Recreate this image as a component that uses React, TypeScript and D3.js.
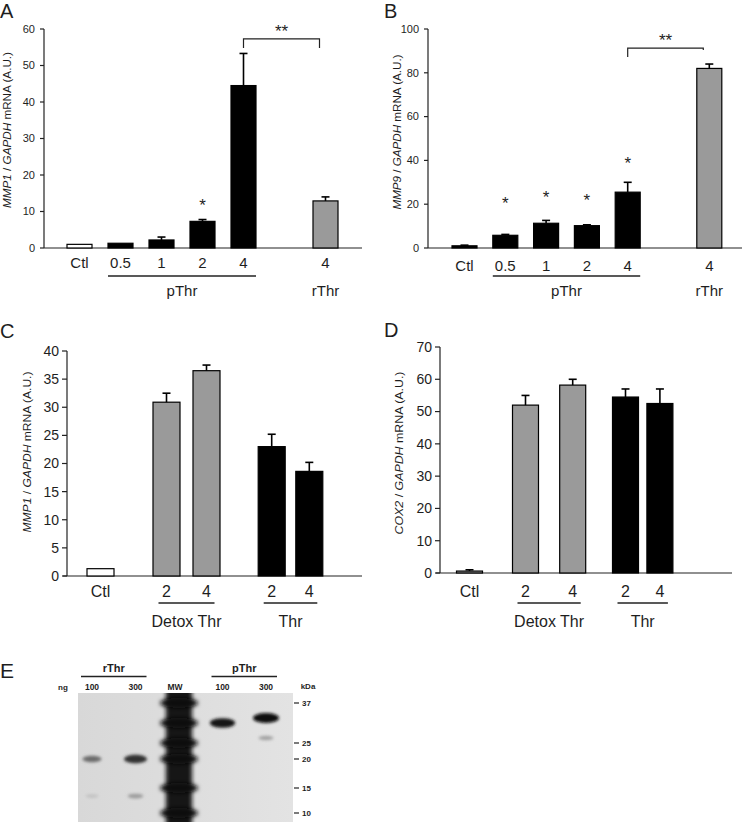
import React from 'react';
import * as d3 from 'd3';

// ---------- DATA ----------
// Panel A: MMP1 / GAPDH
const catsA = ['Ctl', '0.5', '1', '2', '4', '4'];
const valsA = [1.0, 1.3, 2.2, 7.3, 44.5, 12.9];
const errA = [0, 0, 0.8, 0.5, 8.8, 1.1];
const fillA = ['white', 'black', 'black', 'black', 'black', 'gray'];
const starsA = [null, null, null, '*', null, null];
const starValA = [0, 0, 0, 12.6, 0, 0];

// Panel B: MMP9 / GAPDH
const catsB = ['Ctl', '0.5', '1', '2', '4', '4'];
const valsB = [1.0, 5.8, 11.3, 10.2, 25.5, 82.0];
const errB = [0.3, 0.4, 1.3, 0.4, 4.5, 2.0];
const fillB = ['black', 'black', 'black', 'black', 'black', 'gray'];
const starsB = [null, '*', '*', '*', '*', null];
const starValB = [0, 21.9, 24.7, 23.3, 40.2, 0];

// Panel C: MMP1 / GAPDH, detox vs Thr
const catsC = ['Ctl', '2', '4', '2', '4'];
const valsC = [1.3, 30.9, 36.5, 23.0, 18.6];
const errC = [0, 1.6, 1.0, 2.2, 1.6];
const fillC = ['white', 'gray', 'gray', 'black', 'black'];

// Panel D: COX2 / GAPDH
const catsD = ['Ctl', '2', '4', '2', '4'];
const valsD = [0.6, 52.0, 58.2, 54.5, 52.5];
const errD = [0.4, 3.0, 1.8, 2.5, 4.5];
const fillD = ['gray', 'gray', 'gray', 'black', 'black'];

const groupsAB = [{ label: 'pThr', from: 1, to: 4, line: true }, { label: 'rThr', from: 5, to: 5, line: false }];
const groupsCD = [{ label: 'Detox Thr', from: 1, to: 2, line: true }, { label: 'Thr', from: 3, to: 4, line: true }];

// Panel E: western blot
const blotLaneLabels = ['100', '300', 'MW', '100', '300'];
const blotGroups = [{ label: 'rThr', lanes: [0, 1] }, { label: 'pThr', lanes: [3, 4] }];
const markerKDa = [37, 25, 20, 15, 10];
const bandLane = [0, 1, 0, 1, 3, 4, 4];
const bandKDa = [20, 20, 13.4, 13.4, 31, 32.5, 26.5];
const bandIntensity = [0.5, 0.8, 0.06, 0.25, 0.95, 1.0, 0.22];

// ---------- STYLE ----------
const FONT = "'Liberation Sans', Arial, Helvetica, sans-serif";
const INK = '#1e1e1e';
const GRAY = '#9a9a9a';
const fillColor = (f: string) => (f === 'gray' ? GRAY : f === 'white' ? '#ffffff' : '#000000');

type Group = { label: string; from: number; to: number; line: boolean };
type PanelCfg = {
  letter: string; lx: number; ly: number;
  cats: string[]; vals: number[]; errs: number[]; fills: string[];
  stars?: (string | null)[]; starVals?: number[];
  slots: number[]; xc0: number; step: number; barW: number;
  yMax: number; y0: number; yTop: number; axisX: number; axisEnd: number;
  tickFont: number; tickLen: number; tickGap: number;
  catFont: number; catBase: number; lineY: number; groupBase: number; groupFont: number;
  groups: Group[]; lineOverhang: number; lineFromBars: boolean;
  title: [string, string, string]; titleX: number; titleY: number; titleLen: number; titleFont: number;
  bracket?: { a: number; b: number; top: number; legA: number; legB: number; starVal: number };
};

function BarPanel({ c }: { c: PanelCfg }) {
  const y = d3.scaleLinear().domain([0, c.yMax]).range([c.y0, c.yTop]);
  const x = d3.scaleLinear().domain([0, 1]).range([c.xc0, c.xc0 + c.step]);
  const nt = c.yMax === 40 ? 8 : c.yMax === 70 ? 7 : c.yMax === 60 ? 6 : 5;
  const ticks = y.ticks(nt);
  const cx = (i: number) => x(c.slots[i]);
  return (
    <g fontFamily={FONT} fill={INK}>
      <text x={c.lx} y={c.ly} fontSize={20}>{c.letter}</text>
      {/* y axis */}
      <line x1={c.axisX} x2={c.axisX} y1={y(c.yMax)} y2={c.y0} stroke="#222" strokeWidth={1.2} />
      {ticks.map((t) => (
        <g key={t}>
          <line x1={c.axisX - c.tickLen} x2={c.axisX} y1={y(t)} y2={y(t)} stroke="#222" strokeWidth={1.2} />
          <text x={c.axisX - c.tickLen - c.tickGap} y={y(t)} dy="0.35em" textAnchor="end" fontSize={c.tickFont}>{t}</text>
        </g>
      ))}
      {/* x axis */}
      <line x1={c.axisX - (c.tickFont > 12 ? 4 : 0)} x2={c.axisEnd} y1={c.y0} y2={c.y0} stroke="#222" strokeWidth={1.2} />
      {/* bars */}
      {c.vals.map((v, i) => {
        const xc = cx(i);
        const top = y(v);
        const e = c.errs[i];
        return (
          <g key={i}>
            <rect x={xc - c.barW / 2} y={top} width={c.barW} height={c.y0 - top}
              fill={fillColor(c.fills[i])} stroke="#000" strokeWidth={1.2} />
            {e > 0 && (
              <g stroke="#000" strokeWidth={1.6}>
                <line x1={xc} x2={xc} y1={top} y2={y(v + e)} />
                <line x1={xc - 4} x2={xc + 4} y1={y(v + e)} y2={y(v + e)} />
              </g>
            )}
            {c.stars && c.stars[i] && (
              <text x={xc} y={y(c.starVals![i])} dy="0.55em" textAnchor="middle" fontSize={17}>{c.stars[i]}</text>
            )}
          </g>
        );
      })}
      {/* category labels */}
      {c.cats.map((t, i) => (
        <text key={i} x={cx(i)} y={c.catBase} textAnchor="middle" fontSize={c.catFont}>{t}</text>
      ))}
      {/* group labels */}
      {c.groups.map((g, k) => {
        const x1 = c.lineFromBars ? cx(g.from) - c.barW / 2 : cx(g.from) - c.lineOverhang;
        const x2 = c.lineFromBars ? cx(g.to) + c.barW / 2 : cx(g.to) + c.lineOverhang;
        return (
          <g key={k}>
            {g.line && <line x1={x1} x2={x2} y1={c.lineY} y2={c.lineY} stroke="#222" strokeWidth={1.6} />}
            <text x={(cx(g.from) + cx(g.to)) / 2} y={c.groupBase} textAnchor="middle" fontSize={c.groupFont}>{g.label}</text>
          </g>
        );
      })}
      {/* significance bracket */}
      {c.bracket && (
        <g>
          <path d={`M${cx(c.bracket.a)},${y(c.bracket.legA)}V${y(c.bracket.top)}H${cx(c.bracket.b) - 6}V${y(c.bracket.legB)}`}
            fill="none" stroke="#222" strokeWidth={1.2} />
          <text x={(cx(c.bracket.a) + cx(c.bracket.b) - 6) / 2} y={y(c.bracket.starVal)} dy="0.55em" textAnchor="middle" fontSize={17}>**</text>
        </g>
      )}
      {/* y title */}
      <text transform={`translate(${c.titleX},${c.titleY}) rotate(-90)`} textAnchor="middle" fontSize={c.titleFont}
        textLength={c.titleLen} lengthAdjust="spacingAndGlyphs">
        <tspan fontStyle="italic">{c.title[0]}</tspan>
        <tspan> / </tspan>
        <tspan fontStyle="italic">{c.title[1]}</tspan>
        <tspan>{c.title[2]}</tspan>
      </text>
    </g>
  );
}

const panelA: PanelCfg = {
  letter: 'A', lx: 0, ly: 18,
  cats: catsA, vals: valsA, errs: errA, fills: fillA, stars: starsA, starVals: starValA,
  slots: [0, 1, 2, 3, 4, 6], xc0: 79.5, step: 41, barW: 25,
  yMax: 60, y0: 248, yTop: 29, axisX: 44, axisEnd: 362,
  tickFont: 11, tickLen: 4, tickGap: 5,
  catFont: 15, catBase: 268, lineY: 276, groupBase: 296, groupFont: 15,
  groups: groupsAB, lineOverhang: 0, lineFromBars: true,
  title: ['MMP1', 'GAPDH', ' mRNA (A.U.)'], titleX: 11, titleY: 130, titleLen: 156, titleFont: 10.5,
  bracket: { a: 4, b: 5, top: 57.3, legA: 54.8, legB: 54.8, starVal: 60.3 },
};

const panelB: PanelCfg = {
  letter: 'B', lx: 384, ly: 18,
  cats: catsB, vals: valsB, errs: errB, fills: fillB, stars: starsB, starVals: starValB,
  slots: [0, 1, 2, 3, 4, 6], xc0: 464.5, step: 40.8, barW: 25,
  yMax: 100, y0: 248, yTop: 29, axisX: 428, axisEnd: 742,
  tickFont: 11, tickLen: 4, tickGap: 5,
  catFont: 15, catBase: 271, lineY: 276, groupBase: 296, groupFont: 15,
  groups: groupsAB, lineOverhang: 0, lineFromBars: true,
  title: ['MMP9', 'GAPDH', ' mRNA (A.U.)'], titleX: 401, titleY: 132, titleLen: 155, titleFont: 10.5,
  bracket: { a: 4, b: 5, top: 91.3, legA: 87.2, legB: 90.4, starVal: 96.3 },
};

const panelC: PanelCfg = {
  letter: 'C', lx: 0, ly: 338,
  cats: catsC, vals: valsC, errs: errC, fills: fillC,
  slots: [0, 1.65, 2.65, 4.28, 5.22], xc0: 100.5, step: 40, barW: 27,
  yMax: 40, y0: 576, yTop: 351, axisX: 67, axisEnd: 362,
  tickFont: 14, tickLen: 5, tickGap: 3,
  catFont: 16, catBase: 597, lineY: 603, groupBase: 627, groupFont: 16,
  groups: groupsCD, lineOverhang: 8, lineFromBars: false,
  title: ['MMP1', 'GAPDH', ' mRNA (A.U.)'], titleX: 31, titleY: 452, titleLen: 161, titleFont: 10.5,
};

const panelD: PanelCfg = {
  letter: 'D', lx: 384, ly: 337,
  cats: catsD, vals: valsD, errs: errD, fills: fillD,
  slots: [0, 1.4, 2.58, 3.9, 4.76], xc0: 469.5, step: 40, barW: 26,
  yMax: 70, y0: 573, yTop: 347, axisX: 440, axisEnd: 732,
  tickFont: 14, tickLen: 5, tickGap: 3,
  catFont: 16, catBase: 597, lineY: 603, groupBase: 627, groupFont: 16,
  groups: groupsCD, lineOverhang: 8, lineFromBars: false,
  title: ['COX2', 'GAPDH', ' mRNA (A.U.)'], titleX: 403, titleY: 453, titleLen: 163, titleFont: 10.5,
};

function Blot() {
  const laneX = d3.scalePoint<number>().domain(d3.range(blotLaneLabels.length)).range([92, 266]);
  const ky = d3.scaleLinear().domain(markerKDa).range([703, 743, 759, 788, 813]);
  const left = 78, right = 293, top = 693, bottom = 822;
  const mwX = (laneX(2) as number);
  return (
    <g fontFamily={FONT} fill={INK}>
      <defs>
        <filter id="bl2" x="-50%" y="-50%" width="200%" height="200%"><feGaussianBlur stdDeviation="2" /></filter>
        <filter id="bl1" x="-50%" y="-50%" width="200%" height="200%"><feGaussianBlur stdDeviation="1.6" /></filter>
        <linearGradient id="bg" x1="0" x2="1" y1="0" y2="0">
          <stop offset="0" stopColor="#d8d8d8" />
          <stop offset="1" stopColor="#e3e3e3" />
        </linearGradient>
        <clipPath id="blotClip"><rect x={left} y={top} width={right - left} height={bottom - top} /></clipPath>
      </defs>
      <text x={0} y={678} fontSize={21}>E</text>
      <g clipPath="url(#blotClip)">
        <rect x={left} y={top} width={right - left} height={bottom - top} fill="url(#bg)" />
        {/* MW ladder smear */}
        <rect x={mwX - 13} y={top - 5} width={26} height={bottom - top + 10} fill="#151515" filter="url(#bl2)" />
        {[...markerKDa, 31].map((k, i) => (
          <ellipse key={i} cx={mwX} cy={ky(k)} rx={19} ry={5} fill="#0c0c0c" filter="url(#bl2)" />
        ))}
        {/* sample bands */}
        {bandKDa.map((k, i) => {
          const s = bandIntensity[i];
          const g = Math.round(205 - 195 * s);
          return (
            <ellipse key={i} cx={laneX(bandLane[i]) as number} cy={ky(k)}
              rx={6 + 7 * s} ry={1.5 + 3.5 * s} fill={`rgb(${g},${g},${g})`} filter="url(#bl1)" />
          );
        })}
      </g>
      {/* labels */}
      {blotGroups.map((g, i) => {
        const a = laneX(g.lanes[0]) as number, b = laneX(g.lanes[1]) as number;
        return (
          <g key={i}>
            <text x={(a + b) / 2} y={672} textAnchor="middle" fontSize={11} fontWeight="bold">{g.label}</text>
            <line x1={a - 11} x2={b + 11} y1={676.5} y2={676.5} stroke="#222" strokeWidth={1.3} />
          </g>
        );
      })}
      <text x={63} y={690} textAnchor="middle" fontSize={8} fontWeight="bold">ng</text>
      {blotLaneLabels.map((t, i) => (
        <text key={i} x={(laneX(i) as number) + (i === 2 ? -4 : 0)} y={690} textAnchor="middle" fontSize={8.5} fontWeight="bold">{t}</text>
      ))}
      <text x={308} y={689} textAnchor="middle" fontSize={8} fontWeight="bold">kDa</text>
      {markerKDa.map((k) => (
        <g key={k}>
          <line x1={right + 1} x2={right + 6} y1={ky(k)} y2={ky(k)} stroke="#222" strokeWidth={1.2} />
          <text x={right + 9} y={ky(k)} dy="0.35em" fontSize={8} fontWeight="bold">{k}</text>
        </g>
      ))}
    </g>
  );
}

export default function App() {
  return (
    <svg width={745} height={824} viewBox="0 0 745 824"
      style={{ position: 'absolute', left: 0, top: 0, background: '#fff' }}>
      <rect width={745} height={824} fill="#fff" />
      <BarPanel c={panelA} />
      <BarPanel c={panelB} />
      <BarPanel c={panelC} />
      <BarPanel c={panelD} />
      <Blot />
    </svg>
  );
}
